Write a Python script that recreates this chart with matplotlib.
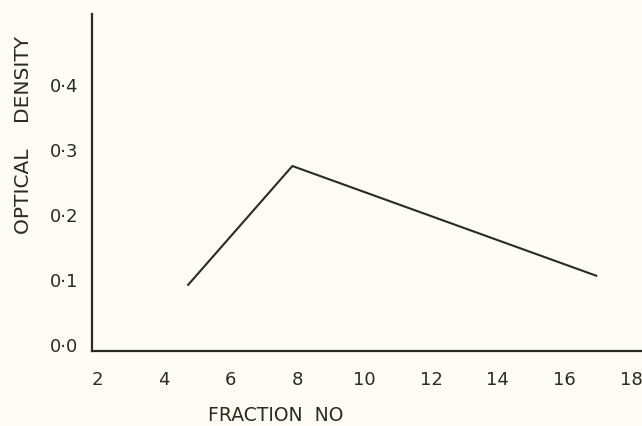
import matplotlib
matplotlib.use('Agg')
import matplotlib.pyplot as plt

# fraction number vs optical density
fraction_no = [4.73, 7.85, 16.95]
optical_density = [0.091, 0.274, 0.105]

x_ticks = [2, 4, 6, 8, 10, 12, 14, 16, 18]
y_ticks = [0.0, 0.1, 0.2, 0.3, 0.4]
y_tick_labels = ['0·0', '0·1', '0·2', '0·3', '0·4']

ink = '#2b2b1e'
paper = '#fdfdf6'

fig = plt.figure(figsize=(6.42, 4.27), dpi=100, facecolor=paper)
ax = fig.add_axes([0.1433, 0.1756, 0.8567, 0.789], facecolor=paper)

ax.plot(fraction_no, optical_density, color=ink, linewidth=1.5)

ax.set_xlim(1.85, 18.32)
ax.set_ylim(-0.011, 0.508)
ax.set_xticks(x_ticks)
ax.set_xticklabels([str(t) for t in x_ticks])
ax.set_yticks(y_ticks)
ax.set_yticklabels(y_tick_labels)
ax.tick_params(length=0, labelsize=13, colors=ink)
ax.tick_params(axis='x', pad=14)
ax.tick_params(axis='y', pad=10)

for side in ['top', 'right']:
    ax.spines[side].set_visible(False)
for side in ['left', 'bottom']:
    ax.spines[side].set_color(ink)
    ax.spines[side].set_linewidth(1.6)

fig.text(0.43, 0.027, 'FRACTION  NO', fontsize=13.5, color=ink, ha='center', va='center')
fig.text(0.036, 0.684, 'OPTICAL    DENSITY', fontsize=14.5, color=ink,
         rotation=90, ha='center', va='center')

fig.savefig('out.png', dpi=100, facecolor=paper)
